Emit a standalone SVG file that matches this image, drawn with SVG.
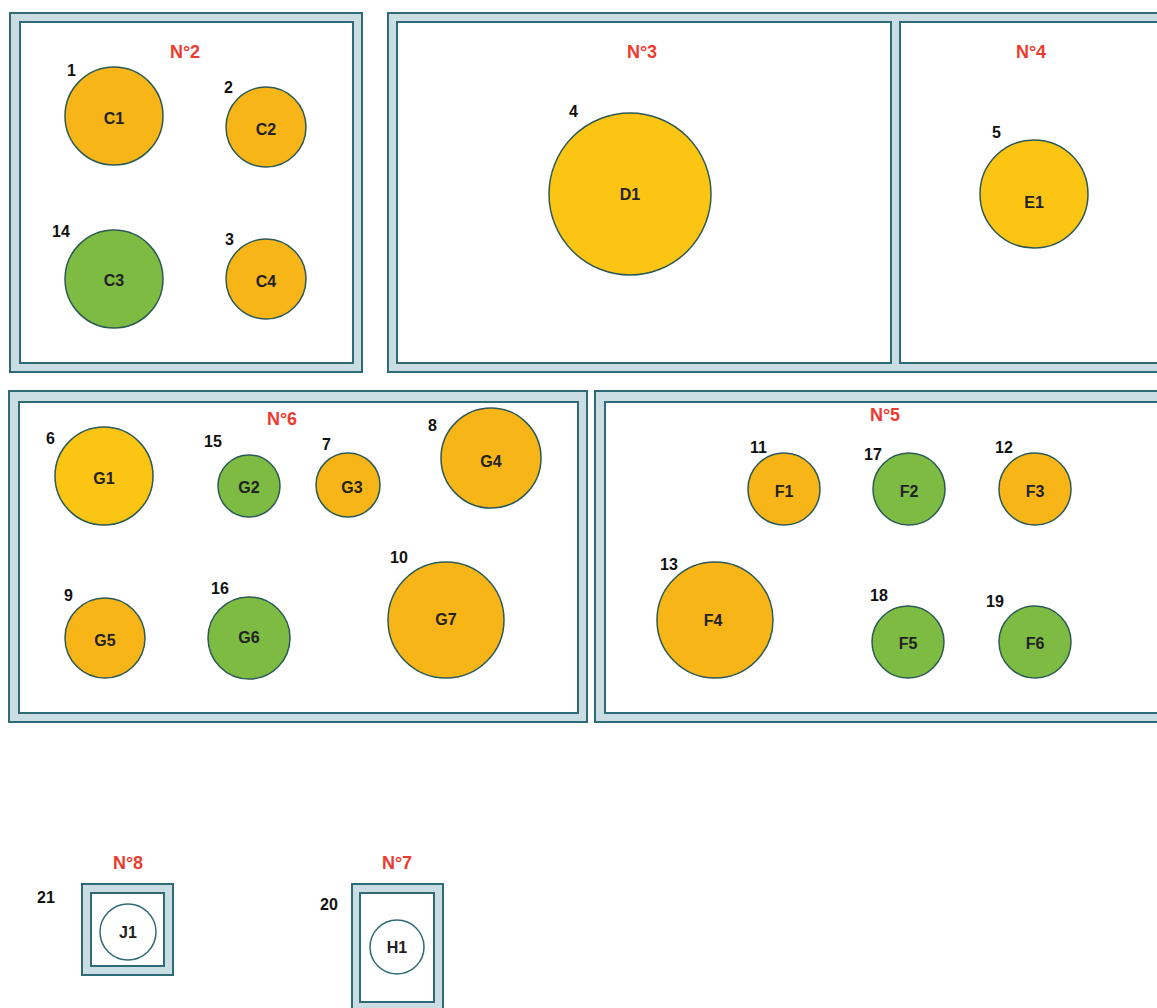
<svg xmlns="http://www.w3.org/2000/svg" width="1157" height="1008" viewBox="0 0 1157 1008">
<style>
.wall{fill:#c9dde2;stroke:#2f6b76;stroke-width:2}
.room{fill:#ffffff;stroke:#2f6b76;stroke-width:2}
.title{font-family:"Liberation Sans",Arial,sans-serif;font-weight:bold;font-size:18px;fill:#ee3b30;text-anchor:middle}
.num{font-family:"Liberation Sans",Arial,sans-serif;font-weight:bold;font-size:16px;fill:#111}
.lbl{font-family:"Liberation Sans",Arial,sans-serif;font-weight:bold;font-size:16px;fill:#222;text-anchor:middle;dominant-baseline:central}
.o{fill:#f8b518;stroke:#2c5a55;stroke-width:1.5}
.y{fill:#fdc513;stroke:#2c5a55;stroke-width:1.5}
.g{fill:#7dbb42;stroke:#2c5a55;stroke-width:1.5}
.w{fill:#ffffff;stroke:#2f6b76;stroke-width:1.5}
</style>
<rect width="1157" height="1008" fill="#ffffff"/>
<g id="room2">
<rect class="wall" x="10" y="13" width="352" height="359"/>
<rect class="room" x="20" y="22" width="333" height="341"/>
<text class="title" x="185" y="58">N°2</text>
</g>
<g id="room3-4">
<rect class="wall" x="388" y="13" width="790" height="359"/>
<rect class="room" x="397" y="22" width="494" height="341"/>
<rect class="room" x="900" y="22" width="270" height="341"/>
<text class="title" x="642" y="58">N°3</text>
<text class="title" x="1031" y="58">N°4</text>
</g>
<g id="room6">
<rect class="wall" x="9" y="391" width="578" height="331"/>
<rect class="room" x="19" y="402" width="559" height="311"/>
<text class="title" x="282" y="425">N°6</text>
</g>
<g id="room5">
<rect class="wall" x="595" y="391" width="580" height="331"/>
<rect class="room" x="605" y="402" width="570" height="311"/>
<text class="title" x="885" y="421">N°5</text>
</g>
<g id="room8">
<rect class="wall" x="82" y="884" width="91" height="91"/>
<rect class="room" x="91" y="893" width="73" height="73"/>
<text class="title" x="128" y="869">N°8</text>
<text class="num" x="37" y="903">21</text>
</g>
<g id="room7">
<rect class="wall" x="352" y="884" width="91" height="130"/>
<rect class="room" x="360" y="893" width="74" height="109"/>
<text class="title" x="397" y="869">N°7</text>
<text class="num" x="320" y="910">20</text>
</g>
<g id="C1"><circle class="o" cx="114" cy="116" r="49"/><text class="lbl" x="114" y="118">C1</text><text class="num" x="67" y="76">1</text></g>
<g id="C2"><circle class="o" cx="266" cy="127" r="40"/><text class="lbl" x="266" y="129">C2</text><text class="num" x="224" y="93">2</text></g>
<g id="C3"><circle class="g" cx="114" cy="279" r="49"/><text class="lbl" x="114" y="280">C3</text><text class="num" x="52" y="237">14</text></g>
<g id="C4"><circle class="o" cx="266" cy="279" r="40"/><text class="lbl" x="266" y="281">C4</text><text class="num" x="225" y="245">3</text></g>
<g id="D1"><circle class="y" cx="630" cy="194" r="81"/><text class="lbl" x="630" y="194">D1</text><text class="num" x="569" y="117">4</text></g>
<g id="E1"><circle class="y" cx="1034" cy="194" r="54"/><text class="lbl" x="1034" y="202">E1</text><text class="num" x="992" y="138">5</text></g>
<g id="G1"><circle class="y" cx="104" cy="476" r="49"/><text class="lbl" x="104" y="478">G1</text><text class="num" x="46" y="444">6</text></g>
<g id="G2"><circle class="g" cx="249" cy="486" r="31"/><text class="lbl" x="249" y="487">G2</text><text class="num" x="204" y="447">15</text></g>
<g id="G3"><circle class="o" cx="348" cy="485" r="32"/><text class="lbl" x="352" y="487">G3</text><text class="num" x="322" y="450">7</text></g>
<g id="G4"><circle class="o" cx="491" cy="458" r="50"/><text class="lbl" x="491" y="461">G4</text><text class="num" x="428" y="431">8</text></g>
<g id="G5"><circle class="o" cx="105" cy="638" r="40"/><text class="lbl" x="105" y="640">G5</text><text class="num" x="64" y="601">9</text></g>
<g id="G6"><circle class="g" cx="249" cy="638" r="41"/><text class="lbl" x="249" y="637">G6</text><text class="num" x="211" y="594">16</text></g>
<g id="G7"><circle class="o" cx="446" cy="620" r="58"/><text class="lbl" x="446" y="619">G7</text><text class="num" x="390" y="563">10</text></g>
<g id="F1"><circle class="o" cx="784" cy="489" r="36"/><text class="lbl" x="784" y="491">F1</text><text class="num" x="750" y="453">11</text></g>
<g id="F2"><circle class="g" cx="909" cy="489" r="36"/><text class="lbl" x="909" y="491">F2</text><text class="num" x="864" y="460">17</text></g>
<g id="F3"><circle class="o" cx="1035" cy="489" r="36"/><text class="lbl" x="1035" y="491">F3</text><text class="num" x="995" y="453">12</text></g>
<g id="F4"><circle class="o" cx="715" cy="620" r="58"/><text class="lbl" x="713" y="620">F4</text><text class="num" x="660" y="570">13</text></g>
<g id="F5"><circle class="g" cx="908" cy="642" r="36"/><text class="lbl" x="908" y="643">F5</text><text class="num" x="870" y="601">18</text></g>
<g id="F6"><circle class="g" cx="1035" cy="642" r="36"/><text class="lbl" x="1035" y="643">F6</text><text class="num" x="986" y="607">19</text></g>
<g id="J1"><circle class="w" cx="128" cy="932" r="28"/><text class="lbl" x="128" y="932">J1</text></g>
<g id="H1"><circle class="w" cx="397" cy="947" r="27"/><text class="lbl" x="397" y="947">H1</text></g>
<g id="connectors"></g>
</svg>
